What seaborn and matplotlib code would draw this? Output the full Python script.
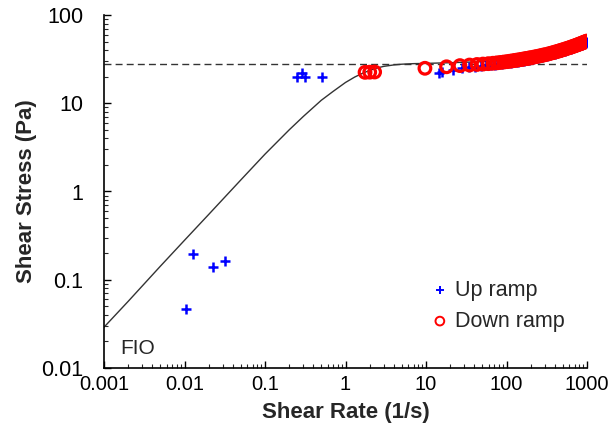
import numpy as np
import pandas as pd
import matplotlib
matplotlib.use("Agg")
import matplotlib.pyplot as plt
import seaborn as sns

# Model curve
model_rate = [0.001, 0.002, 0.005, 0.01, 0.02, 0.05, 0.1, 0.2, 0.3, 0.5, 0.7, 1.0, 1.3, 1.6, 2.0, 2.5,
              3.0, 4.0, 5.0, 7.0, 10, 20, 50, 100, 200, 350, 500, 700, 1000]
model_stress = [0.029, 0.057, 0.142, 0.28, 0.55, 1.35, 2.65, 5.0, 7.1, 10.8, 13.6, 17.2, 19.8, 21.7, 23.6, 25.2,
                26.2, 27.2, 27.7, 28.1, 28.3, 28.8, 29.6, 30.9, 33.2, 36.7, 40.3, 44.7, 50.5]

yield_stress = 28.0

# Up ramp (blue +)
up_rate = [0.0105, 0.0129, 0.0228, 0.0321, 0.25, 0.29, 0.31, 0.51,
           14.5, 16.0, 21.6, 27.7, 34.0, 41.0, 48.0, 56, 64, 72, 80, 88, 97, 105, 113, 122, 130,
           138, 147, 155, 163, 172, 180, 188, 197, 213, 230, 247, 263, 280, 297, 322, 347, 372,
           397, 422, 447, 472, 497, 530, 563, 597, 630, 663, 697, 730, 763, 797, 830, 863, 897,
           930, 963, 996]
up_stress = [0.047, 0.196, 0.138, 0.163, 20.0, 21.8, 20.0, 20.0,
             21.8, 22.7, 23.8, 24.9, 25.6, 26.0, 26.4, 26.8, 27.1, 27.4, 27.7, 28.0, 28.3, 28.6,
             28.9, 29.2, 29.4, 29.7, 30.0, 30.2, 30.5, 30.7, 31.0, 31.2, 31.5, 31.9, 32.4, 32.8,
             33.3, 33.7, 34.1, 34.7, 35.3, 35.9, 36.5, 37.1, 37.7, 38.3, 38.8, 39.5, 40.2, 40.9,
             41.6, 42.3, 43.0, 43.7, 44.3, 45.0, 45.7, 46.3, 47.0, 47.6, 48.2, 48.9]

# Down ramp (red o)
down_rate = [1.75, 2.0, 2.3, 9.7, 18, 26.4, 34.7, 43, 51, 59.5, 68, 76, 84, 92.5, 101, 109, 117, 126,
             134, 142, 151, 159, 167, 176, 184, 192, 201, 217, 234, 251, 267, 284, 301, 326, 351,
             376, 401, 426, 451, 476, 501, 534, 567, 601, 634, 667, 701, 734, 767, 801, 834, 867,
             901, 934, 967, 1000]
down_stress = [22.4, 22.5, 22.6, 24.9, 25.9, 26.7, 27.1, 27.5, 27.8, 28.1, 28.4, 28.7, 29.0, 29.3, 29.6,
               29.9, 30.2, 30.5, 30.8, 31.0, 31.3, 31.6, 31.8, 32.1, 32.3, 32.6, 32.8, 33.3, 33.8,
               34.2, 34.6, 35.1, 35.5, 36.1, 36.8, 37.4, 38.0, 38.6, 39.2, 39.8, 40.4, 41.1, 41.9,
               42.6, 43.3, 44.0, 44.7, 45.4, 46.1, 46.8, 47.4, 48.1, 48.8, 49.4, 50.0, 50.7]

x_ticks = [0.001, 0.01, 0.1, 1, 10, 100, 1000]
x_tick_labels = ["0.001", "0.01", "0.1", "1", "10", "100", "1000"]
y_ticks = [0.01, 0.1, 1, 10, 100]
y_tick_labels = ["0.01", "0.1", "1", "10", "100"]

sns.set_style("ticks")
plt.rcParams["font.family"] = ["Liberation Sans", "DejaVu Sans"]

fig = plt.figure(figsize=(6.13, 4.40), dpi=100)
ax = fig.add_axes([104 / 613, 1 - 368 / 440, (587 - 104) / 613, (368 - 15) / 440])
ax.set_xscale("log")
ax.set_yscale("log")

model_df = pd.DataFrame({"rate": model_rate, "stress": model_stress})
up_df = pd.DataFrame({"rate": up_rate, "stress": up_stress})
down_df = pd.DataFrame({"rate": down_rate, "stress": down_stress})

ax.axhline(yield_stress, color="#333333", lw=1.0, ls=(0, (5, 3)), zorder=1)
sns.lineplot(data=model_df, x="rate", y="stress", ax=ax, color="#333333", lw=1.0,
             sort=False, estimator=None, zorder=2)
sns.scatterplot(data=up_df, x="rate", y="stress", ax=ax, marker="+", s=55, color="#0000ff",
                linewidth=1.8, zorder=3, label="Up ramp")
sns.scatterplot(data=down_df, x="rate", y="stress", ax=ax, marker="o", s=70,
                facecolors="none", edgecolor="#ff0000", linewidth=2.3, zorder=4, label="Down ramp")

ax.set_xlim(0.001, 1000)
ax.set_ylim(0.01, 100)
ax.set_xticks(x_ticks)
ax.set_xticklabels(x_tick_labels)
ax.set_yticks(y_ticks)
ax.set_yticklabels(y_tick_labels)
ax.tick_params(axis="both", which="major", direction="in", length=5, width=1, labelsize=14.5,
               colors="black")
ax.tick_params(axis="x", which="major", pad=5)
ax.tick_params(axis="y", which="major", labelsize=15.5, pad=15)
ax.tick_params(axis="both", which="minor", direction="in", length=3, width=0.8)
for s in ["top", "right"]:
    ax.spines[s].set_visible(False)
for s in ["left", "bottom"]:
    ax.spines[s].set_color("black")
    ax.spines[s].set_linewidth(1.2)

ax.set_xlabel("Shear Rate (1/s)", fontsize=16, fontweight="bold", labelpad=6)
ax.set_ylabel("Shear Stress (Pa)", fontsize=16, fontweight="bold", labelpad=3)

ax.text(0.0016, 0.0165, "FIO", fontsize=15, ha="left", va="center")

leg = ax.legend(loc="lower right", bbox_to_anchor=(0.985, 0.06), frameon=False, fontsize=15.5,
                handletextpad=0.1, labelspacing=0.45, borderaxespad=0.3, handlelength=1.2,
                markerscale=0.75)
for h in leg.legend_handles:
    h.set_linewidth(1.4)

fig.savefig("out.png", dpi=100)
